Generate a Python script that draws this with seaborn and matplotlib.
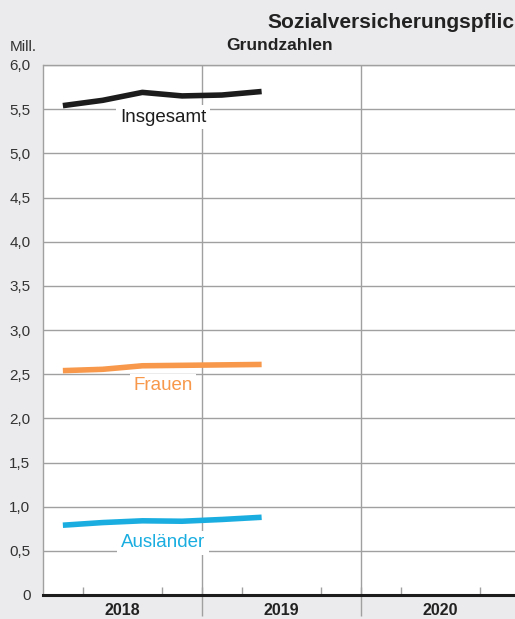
import numpy as np
import pandas as pd
import matplotlib
matplotlib.use("Agg")
import matplotlib.pyplot as plt
import seaborn as sns

# quarterly values, Q1 2018 .. Q2 2019 (Mill.)
quarters = [2018.125, 2018.375, 2018.625, 2018.875, 2019.125, 2019.375]
insgesamt = [5.54, 5.60, 5.69, 5.65, 5.66, 5.70]
frauen = [2.54, 2.555, 2.595, 2.60, 2.605, 2.61]
auslaender = [0.79, 0.82, 0.84, 0.835, 0.855, 0.88]

series_names = ["Insgesamt", "Frauen", "Ausländer"]
colors = {"Insgesamt": "#1c1c1c", "Frauen": "#f7984a", "Ausländer": "#1aaee0"}

y_ticks = [0, 0.5, 1.0, 1.5, 2.0, 2.5, 3.0, 3.5, 4.0, 4.5, 5.0, 5.5, 6.0]
y_labels = ["0", "0,5", "1,0", "1,5", "2,0", "2,5", "3,0", "3,5", "4,0", "4,5", "5,0", "5,5", "6,0"]
years = ["2018", "2019", "2020"]

df = pd.DataFrame({
    "quarter": quarters * 3,
    "value": insgesamt + frauen + auslaender,
    "series": [s for s in series_names for _ in quarters],
})

sns.set_style("white")
plt.rcParams["font.family"] = ["Liberation Sans", "DejaVu Sans"]

bg = "#ebebed"
grid = "#a0a0a0"

fig = plt.figure(figsize=(5.15, 6.19), dpi=100, facecolor=bg)
ax = fig.add_axes([43 / 515, 1 - 595 / 619, 472 / 515, 530 / 619])
ax.set_facecolor("white")

# grid
for y in y_ticks[1:]:
    ax.axhline(y, color=grid, lw=1.0, zorder=1)
for x in [2019, 2020]:
    ax.axvline(x, ymin=-21 / 530, ymax=1, color=grid, lw=1.0, clip_on=False, zorder=1)

sns.lineplot(data=df, x="quarter", y="value", hue="series", palette=colors,
             linewidth=4.0, legend=False, ax=ax, zorder=3)
for line in ax.get_lines():
    line.set_solid_capstyle("butt")

# series labels
label_pos = {"Insgesamt": 5.41, "Frauen": 2.37, "Ausländer": 0.59}
for name in series_names:
    ax.text(2018.755, label_pos[name], name, color=colors[name], fontsize=13.5,
            ha="center", va="center", zorder=4,
            bbox=dict(facecolor="white", edgecolor="none", pad=2.5))

ax.set_xlim(2018, 2018 + 472 / 159)
ax.set_ylim(0, 6)
ax.set_yticks(y_ticks)
ax.set_yticklabels(y_labels)
ax.set_xticks([2018.5, 2019.5, 2020.5])
ax.set_xticklabels(years, fontweight="bold")
ax.set_xticks(np.arange(2018.25, 2021, 0.25), minor=True)
ax.tick_params(axis="x", which="major", bottom=True, length=0, labelsize=11.5, pad=6,
               colors="#222222")
ax.tick_params(axis="x", which="minor", bottom=True, direction="in", length=6, width=1,
               color=grid)
ax.tick_params(axis="y", length=0, labelsize=11, pad=9, colors="#333333")
ax.set_xlabel("")
ax.set_ylabel("")

for s in ["top", "right"]:
    ax.spines[s].set_visible(False)
ax.spines["left"].set_color(grid)
ax.spines["left"].set_linewidth(1.0)
ax.spines["bottom"].set_color("#1c1c1c")
ax.spines["bottom"].set_linewidth(2.2)
ax.spines["bottom"].set_zorder(5)
ax.axhline(6.0, color=grid, lw=1.0, zorder=1, clip_on=False)

# title is cut off at the right edge in the source picture
fig.text(514 / 515, 1 - 22 / 619, "Sozialversicherungspflic",
         fontsize=15, fontweight="bold", color="#222222", ha="right", va="center")
fig.text(280 / 515, 1 - 46 / 619, "Grundzahlen", fontsize=12.5, fontweight="bold",
         color="#222222", ha="center", va="center")
fig.text(10 / 515, 1 - 47 / 619, "Mill.", fontsize=11, color="#333333",
         ha="left", va="center")

fig.savefig("out.png", dpi=100, facecolor=bg)
